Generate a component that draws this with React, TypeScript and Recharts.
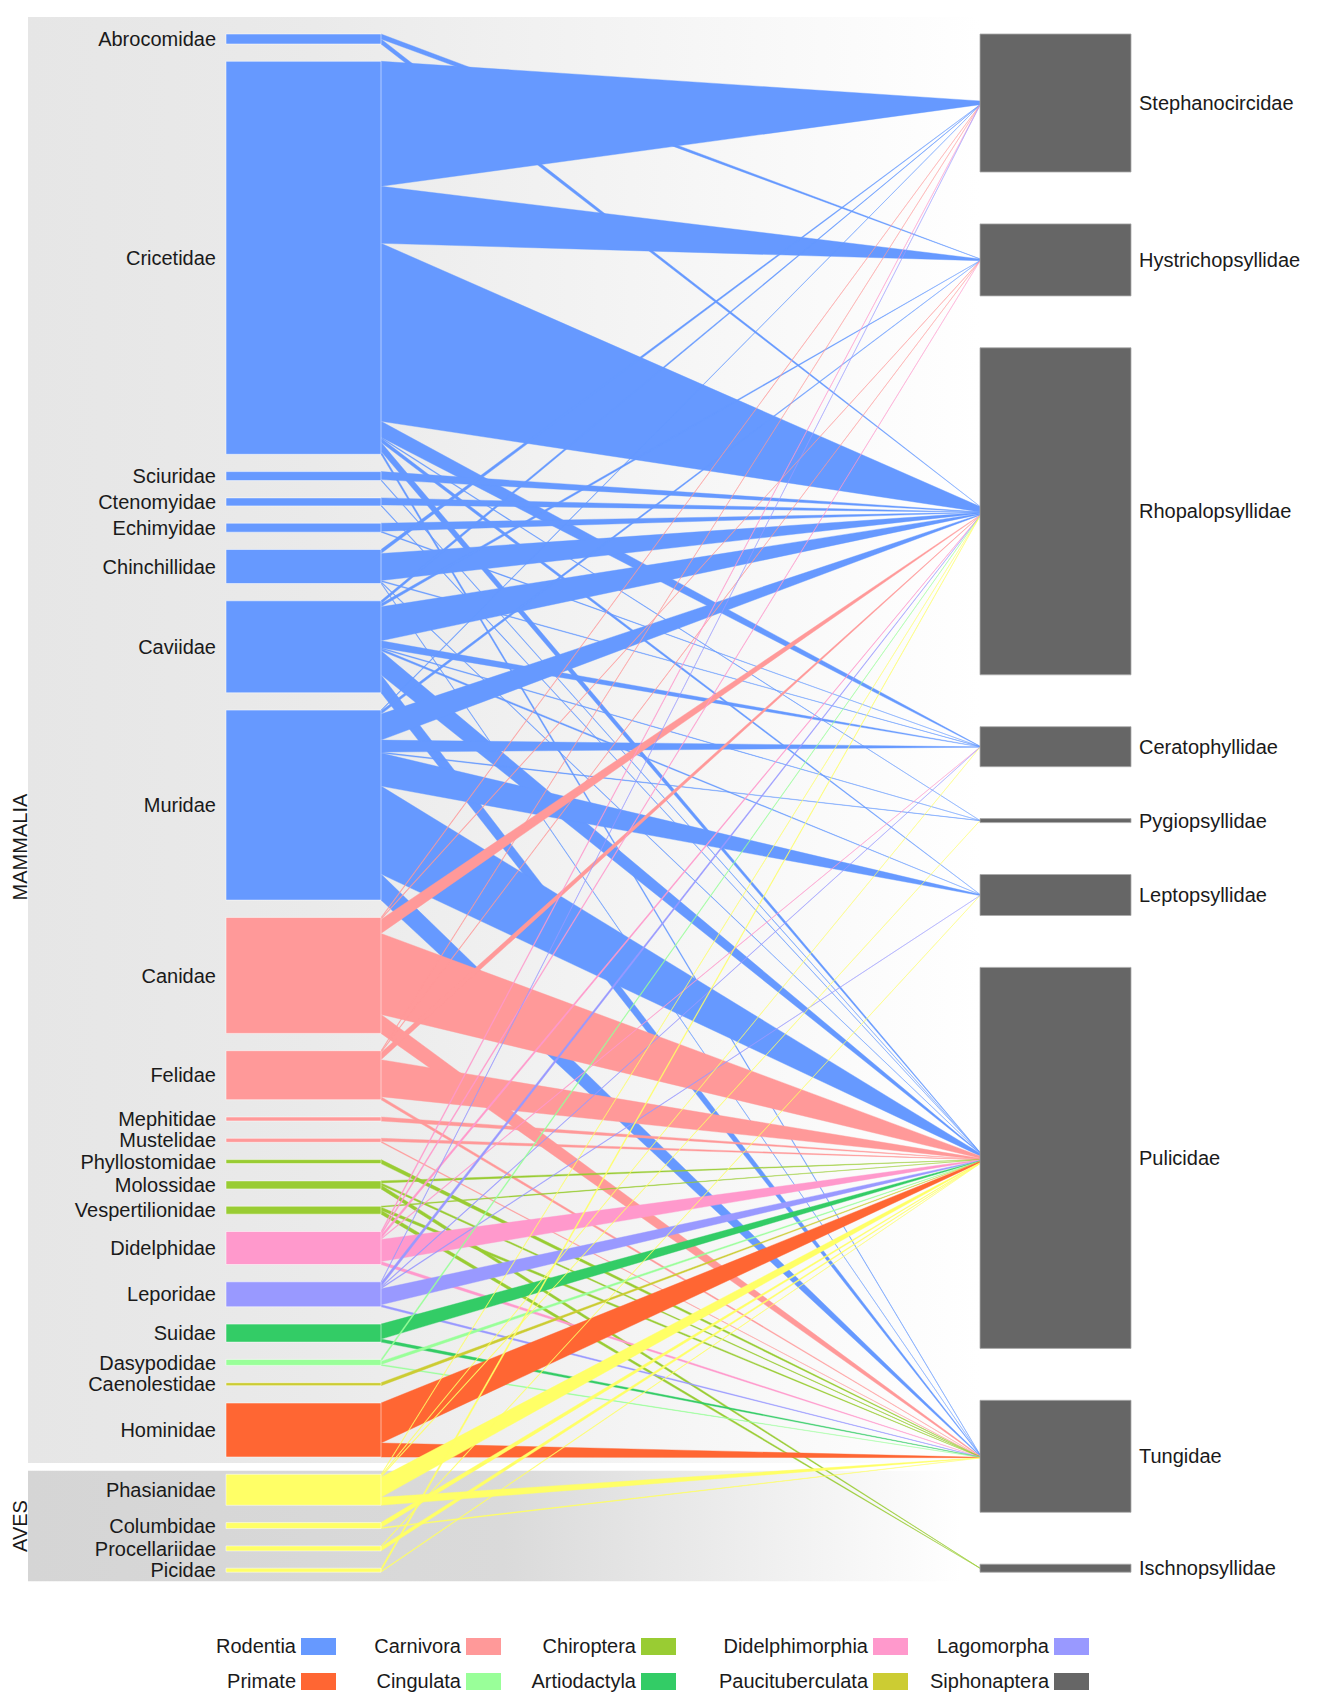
import { Area, ComposedChart, ReferenceArea, XAxis, YAxis } from "recharts";

// host families, top to bottom
const hosts = [
  "Abrocomidae", "Cricetidae", "Sciuridae", "Ctenomyidae", "Echimyidae", "Chinchillidae",
  "Caviidae", "Muridae", "Canidae", "Felidae", "Mephitidae", "Mustelidae", "Phyllostomidae",
  "Molossidae", "Vespertilionidae", "Didelphidae", "Leporidae", "Suidae", "Dasypodidae",
  "Caenolestidae", "Hominidae", "Phasianidae", "Columbidae", "Procellariidae", "Picidae",
];
const hostOrders = [
  "Rodentia", "Rodentia", "Rodentia", "Rodentia", "Rodentia", "Rodentia", "Rodentia", "Rodentia",
  "Carnivora", "Carnivora", "Carnivora", "Carnivora", "Chiroptera", "Chiroptera", "Chiroptera",
  "Didelphimorphia", "Lagomorpha", "Artiodactyla", "Cingulata", "Paucituberculata", "Primate",
  "Aves", "Aves", "Aves", "Aves",
];
const hostClasses = [
  "MAMMALIA", "MAMMALIA", "MAMMALIA", "MAMMALIA", "MAMMALIA", "MAMMALIA", "MAMMALIA", "MAMMALIA",
  "MAMMALIA", "MAMMALIA", "MAMMALIA", "MAMMALIA", "MAMMALIA", "MAMMALIA", "MAMMALIA", "MAMMALIA",
  "MAMMALIA", "MAMMALIA", "MAMMALIA", "MAMMALIA", "MAMMALIA", "AVES", "AVES", "AVES", "AVES",
];

const fleaFamilies = [
  "Stephanocircidae", "Hystrichopsyllidae", "Rhopalopsyllidae", "Ceratophyllidae",
  "Pygiopsyllidae", "Leptopsyllidae", "Pulicidae", "Tungidae", "Ischnopsyllidae",
];

// records per flea family, one value per host (same order as hosts)
const stephanocircidae = [0, 125, 0, 0, 0, 4, 3, 1, 1, 1, 0, 0, 0, 0, 0, 2, 1, 0, 0, 0, 0, 0, 0, 0, 0];
const hystrichopsyllidae = [5, 57, 0, 0, 0, 0, 3, 3, 1, 1, 0, 0, 0, 0, 0, 2, 0, 0, 0, 0, 0, 0, 0, 0, 0];
const rhopalopsyllidae = [5, 178, 8, 7, 8, 27, 34, 26, 14, 7, 0, 0, 0, 0, 0, 3, 4, 0, 2, 0, 0, 1, 0, 0, 3];
const ceratophyllidae = [0, 16, 0, 0, 1, 1, 7, 12, 0, 0, 0, 0, 0, 0, 0, 1, 1, 0, 0, 0, 0, 1, 0, 0, 0];
const pygiopsyllidae = [0, 1, 0, 0, 0, 0, 1, 1, 0, 0, 0, 0, 0, 0, 0, 0, 0, 0, 0, 0, 0, 1, 0, 0, 0];
const leptopsyllidae = [0, 4, 0, 0, 0, 0, 2, 33, 0, 0, 0, 0, 0, 0, 0, 0, 1, 0, 0, 0, 0, 0, 0, 1, 0];
const pulicidae = [0, 9, 1, 1, 0, 1, 24, 88, 81, 37, 4, 3, 0, 2, 1, 22, 16, 15, 3, 3, 40, 20, 5, 4, 1];
const tungidae = [0, 3, 0, 0, 0, 1, 18, 26, 19, 3, 0, 1, 4, 2, 3, 3, 2, 3, 1, 0, 14, 8, 1, 0, 0];
const ischnopsyllidae = [0, 0, 0, 0, 0, 0, 0, 0, 0, 0, 0, 0, 0, 4, 4, 0, 0, 0, 0, 0, 0, 0, 0, 0, 0];

const fleaRecords = [
  stephanocircidae, hystrichopsyllidae, rhopalopsyllidae, ceratophyllidae, pygiopsyllidae,
  leptopsyllidae, pulicidae, tungidae, ischnopsyllidae,
];

const legendTop = ["Rodentia", "Carnivora", "Chiroptera", "Didelphimorphia", "Lagomorpha"];
const legendBottom = ["Primate", "Cingulata", "Artiodactyla", "Paucituberculata", "Siphonaptera"];

const orderColors: Record<string, string> = {
  Rodentia: "#6699FF",
  Carnivora: "#FF9999",
  Chiroptera: "#99CC33",
  Didelphimorphia: "#FF99CC",
  Lagomorpha: "#9999FF",
  Primate: "#FF6633",
  Cingulata: "#99FF99",
  Artiodactyla: "#33CC66",
  Paucituberculata: "#CCCC33",
  Siphonaptera: "#666666",
  Aves: "#FFFF66",
};

// layout
const CHART_W = 1311;
const CHART_H = 1698;
const M_LEFT = 20;
const M_RIGHT = 188;
const M_TOP = 9;
const X_MAX = CHART_W - M_LEFT - M_RIGHT;
const LEFT_X0 = 198;
const LEFT_X1 = 353;
const RIGHT_X0 = 952;
const GAP = 17.3;
const TIP = 0.03;
const PAD_TOP = 17;
const PAD_BOTTOM = 9;
const LEGEND_EDGES = [328, 493, 668, 900, 1081];
const FONT = "'Liberation Sans', Arial, sans-serif";

const sum = (a: number[]) => a.reduce((s, v) => s + v, 0);
const hostTotals = hosts.map((_, i) => sum(fleaRecords.map((col) => col[i])));
const fleaTotals = fleaRecords.map(sum);
const span = sum(hostTotals) + GAP * (hosts.length - 1);
const fleaGap = (span - sum(fleaTotals)) / (fleaFamilies.length - 1);

const hostTops: number[] = [];
hostTotals.reduce((y, t) => {
  hostTops.push(y);
  return y + t + GAP;
}, 0);
const fleaTops: number[] = [];
fleaTotals.reduce((y, t) => {
  fleaTops.push(y);
  return y + t + fleaGap;
}, 0);

// each link is a ranged area: node slice on the left, thin tip at the flea node centre
type Link = { key: string; color: string };
const links: Link[] = [];
const leftRow: Record<string, number | number[]> = { x: LEFT_X1 };
const rightRow: Record<string, number | number[]> = { x: RIGHT_X0 };
const leftCursor = hostTops.slice();
const rightCursor = fleaTotals.map((t, j) => fleaTops[j] + t / 2 - (t * TIP) / 2);
hosts.forEach((_, i) => {
  fleaRecords.forEach((col, j) => {
    const v = col[i];
    if (!v) return;
    const key = `link${links.length}`;
    leftRow[key] = [leftCursor[i], leftCursor[i] + v];
    rightRow[key] = [rightCursor[j], rightCursor[j] + v * TIP];
    leftCursor[i] += v;
    rightCursor[j] += v * TIP;
    links.push({ key, color: orderColors[hostOrders[i]] });
  });
});
const chartData = [leftRow, rightRow];

const lastMammal = hostClasses.lastIndexOf("MAMMALIA");
const firstBird = hostClasses.indexOf("AVES");
const mammalBottom = hostTops[lastMammal] + hostTotals[lastMammal] + GAP * 0.35;
const birdTop = hostTops[firstBird] - GAP * 0.2;

function GroupLabel({ viewBox, text, at }: any) {
  const cx = viewBox.x - 8;
  const cy = viewBox.y + viewBox.height * at;
  return (
    <text
      x={cx}
      y={cy}
      transform={`rotate(-90 ${cx} ${cy})`}
      textAnchor="middle"
      dominantBaseline="central"
      fontSize={20}
      fill="#1a1a1a"
    >
      {text}
    </text>
  );
}

function LegendItem({ name }: { name: string }) {
  return (
    <div style={{ display: "flex", justifyContent: "flex-end", alignItems: "center", height: 35 }}>
      <span style={{ marginRight: 5 }}>{name}</span>
      <span style={{ width: 35, height: 17, background: orderColors[name], display: "inline-block" }} />
    </div>
  );
}

export default function App() {
  const plotH = span + PAD_TOP + PAD_BOTTOM;
  return (
    <div style={{ position: "relative", width: CHART_W, height: CHART_H, fontFamily: FONT, color: "#1a1a1a" }}>
      <ComposedChart
        width={CHART_W}
        height={CHART_H}
        data={chartData}
        margin={{ top: M_TOP, right: M_RIGHT, left: M_LEFT, bottom: CHART_H - M_TOP - plotH }}
        style={{ overflow: "visible" }}
      >
        <defs>
          <linearGradient id="mammaliaFade" x1="0" y1="0" x2="1" y2="0">
            <stop offset="0" stopColor="#E6E6E6" />
            <stop offset="0.3" stopColor="#EAEAEA" />
            <stop offset="1" stopColor="#FFFFFF" />
          </linearGradient>
          <linearGradient id="avesFade" x1="0" y1="0" x2="1" y2="0">
            <stop offset="0" stopColor="#D5D5D5" />
            <stop offset="0.5" stopColor="#DADADA" />
            <stop offset="0.98" stopColor="#FFFFFF" />
          </linearGradient>
        </defs>
        <XAxis dataKey="x" type="number" domain={[0, X_MAX]} hide allowDataOverflow />
        <YAxis type="number" domain={[-PAD_TOP, span + PAD_BOTTOM]} reversed hide allowDataOverflow />

        <ReferenceArea
          x1={0}
          x2={RIGHT_X0}
          y1={-PAD_TOP}
          y2={mammalBottom}
          fill="url(#mammaliaFade)"
          fillOpacity={1}
          stroke="none"
          label={<GroupLabel text="MAMMALIA" at={0.574} />}
        />
        <ReferenceArea
          x1={0}
          x2={RIGHT_X0}
          y1={birdTop}
          y2={span + PAD_BOTTOM}
          fill="url(#avesFade)"
          fillOpacity={1}
          stroke="none"
          label={<GroupLabel text="AVES" at={0.5} />}
        />

        {links.map((l) => (
          <Area
            key={l.key}
            dataKey={l.key}
            type="linear"
            fill={l.color}
            fillOpacity={1}
            stroke={l.color}
            strokeWidth={0.4}
            dot={false}
            activeDot={false}
            legendType="none"
            isAnimationActive={false}
          />
        ))}

        {hosts.map((h, i) => (
          <ReferenceArea
            key={h}
            x1={LEFT_X0}
            x2={LEFT_X1}
            y1={hostTops[i]}
            y2={hostTops[i] + hostTotals[i]}
            fill={orderColors[hostOrders[i]]}
            fillOpacity={1}
            stroke="#ffffff"
            strokeOpacity={0.5}
            label={{ value: h, position: "left", offset: 10, fill: "#1a1a1a", fontSize: 20 }}
          />
        ))}
        {fleaFamilies.map((f, j) => (
          <ReferenceArea
            key={f}
            x1={RIGHT_X0}
            x2={X_MAX}
            y1={fleaTops[j]}
            y2={fleaTops[j] + fleaTotals[j]}
            fill={orderColors.Siphonaptera}
            fillOpacity={1}
            stroke="#aaaaaa"
            strokeWidth={0.8}
            label={{ value: f, position: "right", offset: 8, fill: "#1a1a1a", fontSize: 20 }}
          />
        ))}
      </ComposedChart>

      {LEGEND_EDGES.map((edge, c) => (
        <div
          key={edge}
          style={{ position: "absolute", left: edge - 300, width: 300, top: 1621, fontSize: 20 }}
        >
          <LegendItem name={legendTop[c]} />
          <LegendItem name={legendBottom[c]} />
        </div>
      ))}
    </div>
  );
}
